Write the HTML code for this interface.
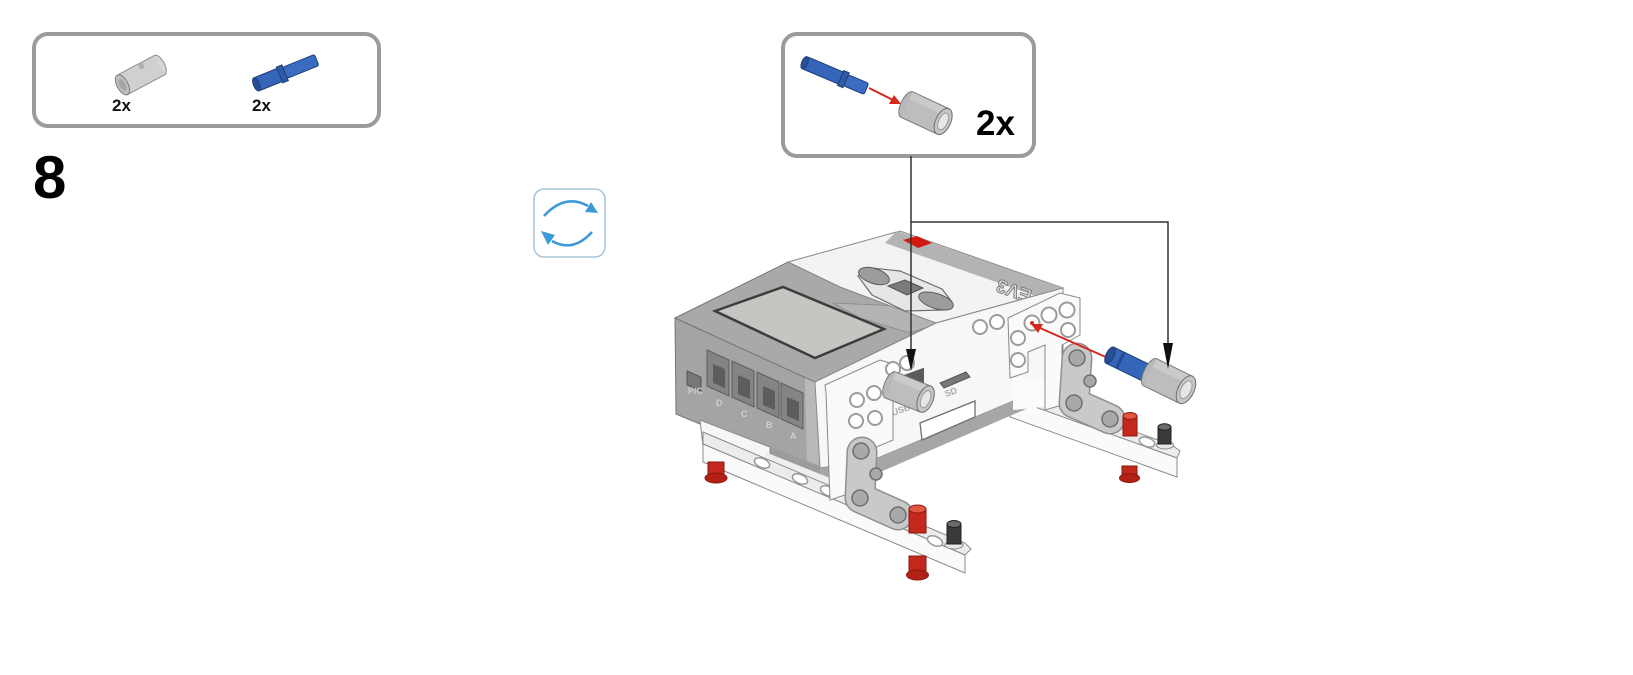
<!DOCTYPE html>
<html><head><meta charset="utf-8"><style>
html,body{margin:0;padding:0;background:#fff;}
svg{display:block;}
text{font-family:"Liberation Sans",sans-serif;}
</style></head><body>
<svg width="1633" height="675" viewBox="0 0 1633 675" xmlns="http://www.w3.org/2000/svg">
<rect width="1633" height="675" fill="#fff"/>

<!-- parts list box -->
<rect x="34" y="34" width="345" height="92" rx="14" fill="#fff" stroke="#9b9b9b" stroke-width="4"/>
<g transform="translate(141,75) rotate(-28)">
  <ellipse cx="21" cy="0" rx="5" ry="11" fill="#d6d6d6" stroke="#8c8c8c"/>
  <rect x="-21" y="-11" width="42" height="22" fill="#d0d0d0"/>
  <line x1="-21" y1="-11" x2="21" y2="-11" stroke="#8c8c8c"/>
  <line x1="-21" y1="11" x2="21" y2="11" stroke="#8c8c8c"/>
  <ellipse cx="-21" cy="0" rx="5.5" ry="11" fill="#bfbfbf" stroke="#7d7d7d"/>
  <ellipse cx="-21" cy="0" rx="3" ry="6.5" fill="#a5a5a5"/>
  <rect x="2" y="-11" width="5" height="6" fill="#b0b0b0"/>
</g>
<g transform="translate(287,72) rotate(-22)">
  <rect x="-33" y="-7" width="28" height="14" rx="2" fill="#3565b8" stroke="#1e3f7a"/>
  <rect x="-8" y="-8.5" width="6" height="17" fill="#2f5aa6" stroke="#1e3f7a"/>
  <rect x="-2" y="-6" width="34" height="12" rx="2" fill="#3a6cc2" stroke="#1e3f7a"/>
  <ellipse cx="-33" cy="0" rx="3" ry="7" fill="#284f96" stroke="#1e3f7a"/>
</g>
<text x="112" y="111" font-size="17" font-weight="bold" fill="#111">2x</text>
<text x="252" y="111" font-size="17" font-weight="bold" fill="#111">2x</text>

<!-- step number -->
<text x="33" y="198" font-size="60" font-weight="bold" fill="#000">8</text>

<!-- rotate icon -->
<rect x="534" y="189" width="71" height="68" rx="10" fill="#fff" stroke="#a9c5d8" stroke-width="1.5"/>
<path d="M544,216 Q565,193 588,206" fill="none" stroke="#3d9ad6" stroke-width="2.5"/>
<polygon points="598,213 585,212 591,202" fill="#3d9ad6"/>
<path d="M592,232 Q573,253 552,241" fill="none" stroke="#3d9ad6" stroke-width="2.5"/>
<polygon points="541,231 555,235 548,245" fill="#3d9ad6"/>

<!-- callout box -->
<rect x="783" y="34" width="251" height="122" rx="14" fill="#fff" stroke="#9b9b9b" stroke-width="4"/>
<g transform="translate(836,76) rotate(23)">
  <rect x="-34" y="-6.5" width="40" height="13" rx="2" fill="#3565b8" stroke="#1e3f7a"/>
  <ellipse cx="-34" cy="0" rx="3" ry="6.5" fill="#284f96" stroke="#1e3f7a"/>
  <rect x="5" y="-8" width="6" height="16" fill="#2f5aa6" stroke="#1e3f7a"/>
  <rect x="11" y="-6" width="22" height="12" rx="2" fill="#3a6cc2" stroke="#1e3f7a"/>
</g>
<line x1="869" y1="88" x2="893" y2="100" stroke="#d8281e" stroke-width="2"/>
<polygon points="901,104 889,104 894,95" fill="#d8281e"/>
<g transform="translate(925,113) rotate(25)">
  <ellipse cx="-20" cy="0" rx="6" ry="14" fill="#b8b8b8" stroke="#7a7a7a"/>
  <rect x="-20" y="-14" width="40" height="28" fill="#bdbdbd"/>
  <rect x="-20" y="-14" width="40" height="8" fill="#cacaca"/>
  <line x1="-20" y1="-14" x2="20" y2="-14" stroke="#7a7a7a"/>
  <line x1="-20" y1="14" x2="20" y2="14" stroke="#7a7a7a"/>
  <ellipse cx="20" cy="0" rx="7.5" ry="14" fill="#c6c6c6" stroke="#6e6e6e"/>
  <ellipse cx="20" cy="0" rx="4.5" ry="9" fill="#e6e6e6" stroke="#999"/>
</g>
<text x="976" y="135" font-size="35" font-weight="bold" fill="#000">2x</text>

<!-- ===== MODEL ===== -->
<!-- right beam -->
<polygon points="1010,387 1172,445 1180,451 1177,458 1010,398" fill="#ececec" stroke="#8a8a8a" stroke-width="1"/>
<polygon points="1010,398 1177,458 1177,477 1010,417" fill="#fafafa" stroke="#8a8a8a" stroke-width="1"/>
<ellipse cx="1100" cy="425" rx="8" ry="4.5" transform="rotate(20 1100 425)" fill="#fff" stroke="#999" stroke-width="1.5"/>
<ellipse cx="1147" cy="442" rx="8" ry="4.5" transform="rotate(20 1147 442)" fill="#fff" stroke="#999" stroke-width="1.5"/>

<!-- brick gray end: left face -->
<polygon points="675,318 815,382 818,466 700,424 676,414" fill="#a4a4a4" stroke="#777" stroke-width="1"/>
<polygon points="805,377 822,385 822,468 807,463" fill="#b9b9b9"/>
<polygon points="765,445 820,466 820,484 765,463" fill="#9c9c9c"/>
<!-- ports -->
<rect x="687" y="371" width="14" height="14" fill="#777" stroke="#555" transform="skewY(24) translate(0,-306)"/>
<polygon points="707,350 729,360 729,396 707,386" fill="#848484" stroke="#5e5e5e"/>
<polygon points="732,361 754,371 754,407 732,397" fill="#848484" stroke="#5e5e5e"/>
<polygon points="757,372 779,382 779,418 757,408" fill="#848484" stroke="#5e5e5e"/>
<polygon points="781,383 803,393 803,429 781,419" fill="#848484" stroke="#5e5e5e"/>
<polygon points="713,364 725,369 725,388 713,383" fill="#5d5d5d"/>
<polygon points="738,375 750,380 750,399 738,394" fill="#5d5d5d"/>
<polygon points="763,386 775,391 775,410 763,405" fill="#5d5d5d"/>
<polygon points="787,397 799,402 799,421 787,416" fill="#5d5d5d"/>
<g font-size="9" fill="#cfcfcf" font-weight="bold">
  <text x="688" y="394">P/C</text>
  <text x="716" y="406">D</text>
  <text x="741" y="417">C</text>
  <text x="766" y="428">B</text>
  <text x="790" y="439">A</text>
</g>

<!-- gray top -->
<polygon points="675,318 788,262 840,287 936,323 815,382" fill="#a9a9a9" stroke="#777" stroke-width="1"/>
<polygon points="833,303 900,306 937,324 910,333 860,318" fill="#b4b4b4" stroke="#888" stroke-width="0.8"/>
<polygon points="715,311 783,287 884,329 815,358" fill="#c4c7c1" stroke="#3d3d3d" stroke-width="2.5"/>

<!-- white top -->
<polygon points="788,262 900,231 1063,288 936,323 840,287" fill="#f3f3f3" stroke="#888" stroke-width="1"/>
<polygon points="897,231 1063,288 1050,301 885,243" fill="#b3b3b3"/>
<polygon points="903,240 917,236 932,243 918,248" fill="#d01a10"/>
<text x="0" y="0" font-size="19" font-weight="bold" fill="#d6d6d6" stroke="#707070" stroke-width="0.8" transform="translate(1033,291) rotate(200)">EV3</text>
<!-- buttons -->
<polygon points="858,276 872,268 900,271 942,289 952,302 944,310 905,311 872,295" fill="#e6e6e6" stroke="#6f6f6f" stroke-width="1.2"/>
<ellipse cx="874" cy="276" rx="16" ry="7.5" transform="rotate(18 874 276)" fill="#9c9c9c" stroke="#5e5e5e"/>
<ellipse cx="936" cy="301" rx="18" ry="7.5" transform="rotate(18 936 301)" fill="#9c9c9c" stroke="#5e5e5e"/>
<polygon points="888,286 905,280 923,288 907,295" fill="#7b7b7b" stroke="#505050"/>

<!-- white front face -->
<polygon points="815,382 936,323 1063,288 1063,380 873,460 820,468" fill="#f7f7f7" stroke="#888" stroke-width="1"/>
<polygon points="820,468 873,460 1063,380 1063,393 878,473 820,482" fill="#a6a6a6"/>
<polygon points="1013,378 1063,380 1063,405 1013,410" fill="#fbfbfb"/>
<!-- slot + SD -->
<polygon points="920,423 975,401 975,417 922,440" fill="#fff" stroke="#6f6f6f" stroke-width="1.3"/>
<polygon points="940,383 966,372 970,377 944,388" fill="#777" stroke="#555"/>
<text x="0" y="0" font-size="9" font-weight="bold" fill="#aaa" transform="translate(946,397) rotate(-20)">SD</text>
<text x="0" y="0" font-size="9" font-weight="bold" fill="#aaa" transform="translate(893,416) rotate(-20)">USB</text>
<rect x="898" y="376" width="26" height="17" fill="#5a5a5a" transform="skewY(-20) translate(0,328)"/>

<!-- under-brick white pieces -->
<polygon points="700,420 770,447 770,462 703,446" fill="#f6f6f6" stroke="#8a8a8a" stroke-width="1"/>
<polygon points="765,452 830,478 830,500 765,478" fill="#eeeeee"/>

<!-- left beam -->
<polygon points="703,432 965,543 971,549 965,555 703,444" fill="#ececec" stroke="#8a8a8a" stroke-width="1"/>
<polygon points="703,444 965,555 965,573 703,462" fill="#fafafa" stroke="#8a8a8a" stroke-width="1"/>
<ellipse cx="762" cy="463" rx="8" ry="4.5" transform="rotate(23 762 463)" fill="#fff" stroke="#999" stroke-width="1.5"/>
<ellipse cx="800" cy="479" rx="8" ry="4.5" transform="rotate(23 800 479)" fill="#fff" stroke="#999" stroke-width="1.5"/>
<ellipse cx="828" cy="491" rx="8" ry="4.5" transform="rotate(23 828 491)" fill="#fff" stroke="#999" stroke-width="1.5"/>
<ellipse cx="935" cy="541" rx="8" ry="4.5" transform="rotate(23 935 541)" fill="#fff" stroke="#999" stroke-width="1.5"/>

<!-- front-left white frame -->
<polygon points="825,385 880,360 893,364 893,440 850,458 848,494 830,500 826,392" fill="#fafafa" stroke="#888" stroke-width="1"/>
<g fill="#fff" stroke="#9c9c9c" stroke-width="2">
  <circle cx="857" cy="400" r="7"/><circle cx="874" cy="393" r="7"/>
  <circle cx="856" cy="421" r="7"/><circle cx="875" cy="418" r="7"/>
  <circle cx="893" cy="369" r="7"/><circle cx="907" cy="363" r="7"/>
</g>

<!-- right white frame -->
<polygon points="1008,318 1060,293 1080,298 1080,335 1062,345 1062,405 1045,410 1045,345 1028,352 1028,372 1010,378" fill="#fafafa" stroke="#888" stroke-width="1"/>
<g fill="#fff" stroke="#9c9c9c" stroke-width="2">
  <circle cx="980" cy="327" r="7"/><circle cx="997" cy="322" r="7"/>
  <circle cx="1032" cy="323" r="7.5"/><circle cx="1049" cy="315" r="7.5"/><circle cx="1067" cy="310" r="7.5"/>
  <circle cx="1018" cy="338" r="7"/><circle cx="1018" cy="360" r="7"/><circle cx="1068" cy="330" r="7"/>
</g>

<!-- angle beams -->
<path d="M862,452 L860,498 L898,515" fill="none" stroke="#8f8f8f" stroke-width="31" stroke-linecap="round" stroke-linejoin="round"/>
<path d="M862,452 L860,498 L898,515" fill="none" stroke="#c9c9c9" stroke-width="28" stroke-linecap="round" stroke-linejoin="round"/>
<g fill="#a9a9a9" stroke="#6f6f6f" stroke-width="1.5">
  <circle cx="861" cy="451" r="8"/><circle cx="860" cy="498" r="8"/><circle cx="898" cy="515" r="8"/><circle cx="876" cy="474" r="6"/>
</g>
<path d="M1077,358 L1074,403 L1110,419" fill="none" stroke="#8f8f8f" stroke-width="31" stroke-linecap="round" stroke-linejoin="round"/>
<path d="M1077,358 L1074,403 L1110,419" fill="none" stroke="#c9c9c9" stroke-width="28" stroke-linecap="round" stroke-linejoin="round"/>
<g fill="#a9a9a9" stroke="#6f6f6f" stroke-width="1.5">
  <circle cx="1077" cy="358" r="8"/><circle cx="1074" cy="403" r="8"/><circle cx="1110" cy="419" r="8"/><circle cx="1090" cy="381" r="6"/>
</g>

<!-- red pegs -->
<g stroke="#8a1810" stroke-width="1">
  <rect x="708" y="462" width="16" height="16" fill="#c4281c"/>
  <ellipse cx="716" cy="478" rx="11" ry="5" fill="#b32015"/>
  <rect x="909" y="556" width="17" height="18" fill="#c4281c"/>
  <ellipse cx="917.5" cy="575" rx="11" ry="5" fill="#b32015"/>
  <rect x="909" y="509" width="17" height="24" fill="#c4281c"/>
  <ellipse cx="917.5" cy="509" rx="8.5" ry="4" fill="#e2553f"/>
  <rect x="1123" y="416" width="14" height="20" fill="#c4281c"/>
  <ellipse cx="1130" cy="416" rx="7" ry="3.5" fill="#e2553f"/>
  <rect x="1122" y="466" width="15" height="12" fill="#c4281c"/>
  <ellipse cx="1129.5" cy="478" rx="10" ry="4.5" fill="#b32015"/>
</g>
<!-- black pins -->
<ellipse cx="954" cy="545" rx="9" ry="4" fill="#e8e8e8" stroke="#888"/>
<rect x="947" y="524" width="14" height="20" fill="#3a3a3a" stroke="#222"/>
<ellipse cx="954" cy="524" rx="7" ry="3.5" fill="#6a6a6a" stroke="#222"/>
<ellipse cx="1165" cy="445" rx="8.5" ry="4" fill="#e8e8e8" stroke="#888"/>
<rect x="1158" y="427" width="13" height="17" fill="#3a3a3a" stroke="#222"/>
<ellipse cx="1164.5" cy="427" rx="6.5" ry="3.2" fill="#6a6a6a" stroke="#222"/>

<!-- left model pin (gray) -->
<g transform="translate(908,392) rotate(22)">
  <ellipse cx="-19" cy="0" rx="6" ry="14" fill="#b8b8b8" stroke="#7a7a7a"/>
  <rect x="-19" y="-14" width="38" height="28" fill="#bdbdbd"/>
  <rect x="-19" y="-14" width="38" height="8" fill="#cbcbcb"/>
  <line x1="-19" y1="-14" x2="19" y2="-14" stroke="#7a7a7a"/>
  <line x1="-19" y1="14" x2="19" y2="14" stroke="#7a7a7a"/>
  <ellipse cx="19" cy="0" rx="7.5" ry="14" fill="#c6c6c6" stroke="#6e6e6e"/>
  <ellipse cx="19" cy="0" rx="4.5" ry="9" fill="#e6e6e6" stroke="#999"/>
</g>

<!-- right pin assembly -->
<line x1="1108" y1="358" x2="1040" y2="328" stroke="#d8281e" stroke-width="2"/>
<polygon points="1031,324 1043,324 1038,333" fill="#d8281e"/>
<circle cx="1032" cy="323" r="2" fill="#d8281e"/>
<g transform="translate(1128,364) rotate(26)">
  <rect x="-20" y="-9" width="40" height="18" rx="2" fill="#3565b8" stroke="#1e3f7a"/>
  <ellipse cx="-20" cy="0" rx="4" ry="9" fill="#284f96" stroke="#1e3f7a"/>
  <rect x="-10" y="-9" width="3" height="18" fill="#244b90"/>
</g>
<g transform="translate(1168,381) rotate(26)">
  <ellipse cx="-20" cy="0" rx="6" ry="15" fill="#b8b8b8" stroke="#7a7a7a"/>
  <rect x="-20" y="-15" width="40" height="30" fill="#bdbdbd"/>
  <rect x="-20" y="-15" width="40" height="9" fill="#cbcbcb"/>
  <line x1="-20" y1="-15" x2="20" y2="-15" stroke="#7a7a7a"/>
  <line x1="-20" y1="15" x2="20" y2="15" stroke="#7a7a7a"/>
  <ellipse cx="20" cy="0" rx="8" ry="15" fill="#c6c6c6" stroke="#6e6e6e"/>
  <ellipse cx="20" cy="0" rx="5" ry="9.5" fill="#e6e6e6" stroke="#999"/>
</g>

<!-- connector lines -->
<path d="M911,156 V352" stroke="#333" stroke-width="1.5" fill="none"/>
<path d="M911,222 H1168 V346" stroke="#333" stroke-width="1.5" fill="none"/>
<polygon points="906,349 916,349 911,371" fill="#111"/>
<polygon points="1163,343 1173,343 1168,369" fill="#111"/>
</svg>
</body></html>
